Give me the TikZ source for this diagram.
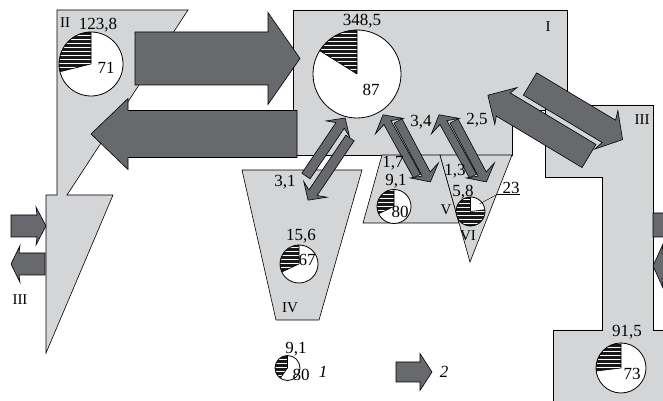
\documentclass[tikz,border=0pt]{standalone}
\usepackage{fontspec}
\setmainfont{Liberation Serif}
\usetikzlibrary{calc}

\definecolor{regiongray}{RGB}{212,213,215}
\definecolor{arrowgray}{RGB}{104,105,109}

\tikzset{
  region/.style={draw=black, fill=regiongray, line width=0.6pt},
  flowarrow/.style={draw=black, fill=arrowgray, line width=0.6pt, line join=miter},
  lbl/.style={font=\fontsize{17}{18}\selectfont, inner sep=0pt, text depth=0pt},
  roman/.style={font=\fontsize{15}{16}\selectfont, inner sep=0pt, text depth=0pt},
  % length / shaft width / head width / head length / sweep of the barbs
  pics/flow/.style args={#1/#2/#3/#4/#5}{code={
    \draw[flowarrow] (0,-#2/2) -- (#1-#4,-#2/2) -- (#1-#4-#5,-#3/2) -- (#1,0)
      -- (#1-#4-#5,#3/2) -- (#1-#4,#2/2) -- (0,#2/2) -- cycle;
  }},
}

% pie: centre x, centre y, radius, angle where the hatched part ends
\newcommand\pie[4]{%
  \fill[white] (#1,#2) circle (#3);
  \begin{scope}
    \clip (#1,#2) -- ++(90:#3) arc[start angle=90, end angle=#4, radius=#3] -- cycle;
    \fill[black!90] ({#1-#3},{#2-#3}) rectangle ({#1+#3},{#2+#3});
    \foreach \k in {-12,...,12}
      \draw[white, line width=1pt] ({#1-#3},{#2+\k*4}) -- ({#1+#3},{#2+\k*4});
  \end{scope}
  \draw[line width=0.6pt] (#1,#2) -- ++(90:#3) (#1,#2) -- ++(#4:#3);
  \draw[line width=0.8pt] (#1,#2) circle (#3);
}

\begin{document}
\begin{tikzpicture}[x=1pt, y=1pt]
  \useasboundingbox (0,0) rectangle (663,401);
  \clip (0,0) rectangle (663,401);

  % regions
  \draw[region] (57,391) -- (188,391) -- (67,206) -- (113,206) -- (46,48) -- (46,206) -- (57,206) -- cycle;
  \draw[region] (293,391) -- (567,391) -- (567,291) -- (512,291) -- (512,246) -- (293,246) -- cycle;
  \draw[region] (545,296) -- (653,296) -- (653,71) -- (690,71) -- (690,-10) -- (553,-10) -- (553,71)
    -- (602,71) -- (602,224) -- (545,224) -- cycle;
  \draw[region] (242,231) -- (362,231) -- (319,81) -- (276,81) -- cycle;
  \draw[region] (382,246) -- (440,246) -- (459,178) -- (363,178) -- cycle;
  \draw[region] (440,246) -- (512,246) -- (470,139) -- cycle;

  % pies
  \pie{91}{337}{32}{194}
  \pie{357}{327}{44}{148}
  \pie{299}{137}{19}{205}
  \pie{394}{194.5}{17}{205}
  \pie{470.5}{189.5}{14.5}{367}
  \pie{621}{33}{25}{187}
  \pie{287.5}{33}{12.5}{235}
  \coordinate (cVI) at (470.5,189.5);

  % flows
  \pic at (135,342.5) {flow=165/53/92/32/0};
  \pic[rotate=180] at (297,267) {flow=206/47/71/37/0};
  \pic at (11,175) {flow=35/22/38/9/1};
  \pic[rotate=180] at (45,137) {flow=34/22/37/8/1};
  \pic at (653,176) {flow=60/24/40/10/0};
  \pic[rotate=180] at (720,135) {flow=67/26/44/9/1};
  \pic[rotate=149] at (589,245) {flow=118/27/43/18/3};
  \pic[rotate=-31] at (530,317) {flow=108/26/45/16/3};
  \pic[rotate=56] at (306,225) {flow=70/10/28/9/4};
  \pic[rotate=236] at (350,263) {flow=75/10/28/9/4};
  \pic[rotate=119] at (417,225) {flow=70/8/32/9/4};
  \pic[rotate=-62] at (398,280) {flow=69/9/32/9/4};
  \pic[rotate=119] at (473,225) {flow=70/8/32/9/4};
  \pic[rotate=-62] at (454,280) {flow=69/9/32/9/4};
  \pic at (396,29) {flow=36/20/37/12/0};

  % labels
  \node[roman] (nII) at (65,378) {II};
  \node[lbl] (vII) at (98,377) {123,8};
  \node[lbl] (pII) at (106,333) {71};
  \node[roman] (nI) at (548,374) {I};
  \node[lbl] (vI) at (362,381) {348,5};
  \node[lbl] (pI) at (371,311) {87};
  \node[roman] (nIIIa) at (642,281) {III};
  \node[roman] (nIIIb) at (20,101) {III};
  \node[lbl] (vIII) at (627,70) {91,5};
  \node[lbl] (pIII) at (632,27) {73};
  \node[roman] (nIV) at (290,93.5) {IV};
  \node[lbl] (vIV) at (301,166) {15,6};
  \node[lbl] (pIV) at (307,141) {67};
  \node[roman] (nV) at (446,191) {V};
  \node[lbl] (vV) at (396,221) {9,1};
  \node[lbl] (pV) at (400,189.5) {80};
  \node[roman] (nVI) at (468,165) {VI};
  \node[lbl] (vVI) at (463,210) {5,8};
  \node[lbl] (pVI) at (511,213.5) {23};
  \draw ([xshift=-5pt,yshift=-1pt]pVI.south west) -- ([yshift=-1pt]pVI.south east);
  \draw ([xshift=-5pt,yshift=-1pt]pVI.south west) -- ($(cVI)+(40:12)$);

  \node[lbl] (fA) at (285,220) {3,1};
  \node[lbl] (fB) at (421,280) {3,4};
  \node[lbl] (fBb) at (393,239) {1,7};
  \node[lbl] (fC) at (477,282) {2,5};
  \node[lbl] (fCb) at (455,231) {1,3};

  % legend
  \node[lbl] (lv) at (296,53) {9,1};
  \node[lbl] (lp) at (301,26) {80};
  \node[lbl, font=\fontsize{17}{18}\selectfont\itshape] (l1) at (323,29) {1};
  \node[lbl, font=\fontsize{17}{18}\selectfont\itshape] (l2) at (444,29) {2};
\end{tikzpicture}
\end{document}
